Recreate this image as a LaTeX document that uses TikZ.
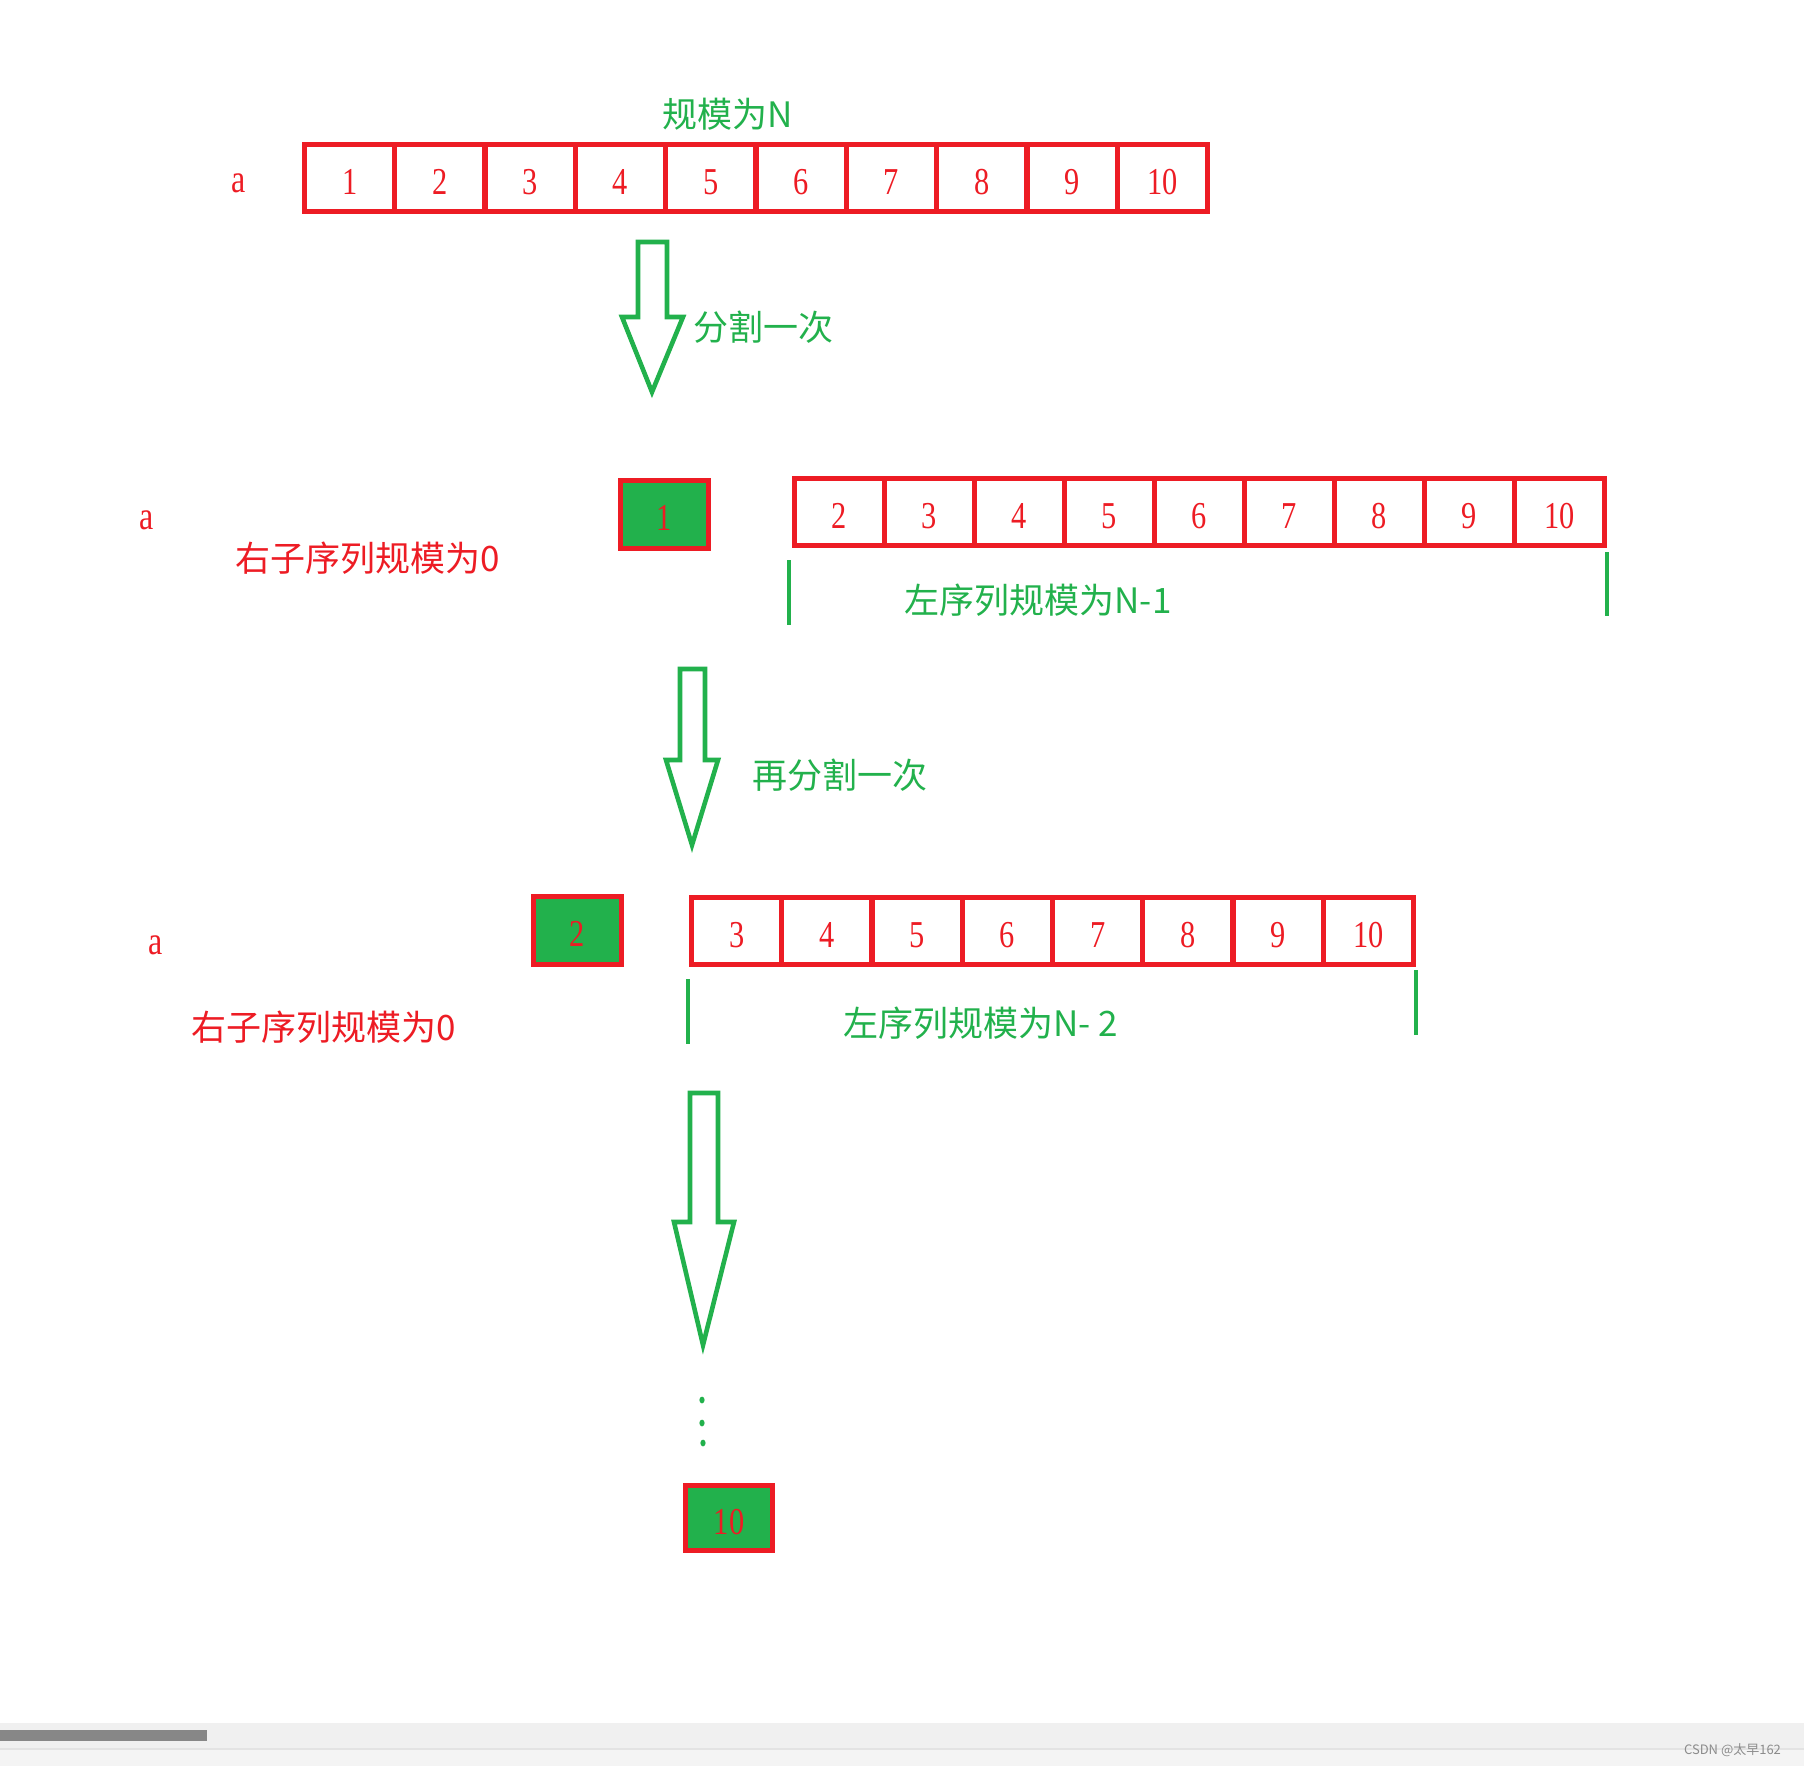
\documentclass[tikz,border=0pt]{standalone}
\usepackage{fontspec}
\newfontfamily\cjk{Noto Sans CJK SC}
\newfontfamily\digitfont{Liberation Serif}
\definecolor{pred}{HTML}{ED1C24}
\definecolor{pgreen}{HTML}{22B14C}
\newcommand{\thin}[1]{\scalebox{0.8}[1]{#1}}
\begin{document}
\begin{tikzpicture}[x=0.5pt,y=-0.5pt,
    cell/.style={draw=pred,line width=2.5pt,minimum width=45pt,minimum height=33.5pt,
      inner sep=0pt,outer sep=0pt,text=pred,text height=16.3pt,text depth=0pt,
      font=\digitfont\fontsize{19}{19}\selectfont},
    pivot/.style={cell,fill=pgreen,minimum width=44pt,minimum height=34pt},
    letter/.style={text=pred,font=\digitfont\fontsize{20}{20}\selectfont},
    zh/.style={font=\cjk\fontsize{17.5}{17.5}\selectfont},
    hollow/.style={draw=pgreen,line width=2.3pt},
    brace/.style={draw=pgreen,line width=2pt}]
  \useasboundingbox (0,0) rectangle (1804,1766);
  % bottom bar of the screenshot
  \fill[black!6] (0,1723) rectangle (1804,1766);
  \fill[black!4.5] (0,1749) rectangle (1804,1766);
  \draw[black!11,line width=0.6pt] (0,1749) -- (1804,1749);
  \fill[black!47] (0,1730) rectangle (207,1741);
  \node[anchor=east,text=black!45,font=\cjk\fontsize{6.5}{6.5}\selectfont] (mark) at (1788,1750) {CSDN @太早162};

  % first row
  \node[zh,text=pgreen] (sizeN) at (728,114) {规模为N};
  \node[letter] (a1) at (239,183) {\thin{a}};
  \foreach \i in {1,...,10}
    \node[cell] (r\i) at ({304.5+90.3*(\i-0.5)},178) {\thin{\i}};
  \draw[hollow] (638,242) -- (667,242) -- (667,317) -- (683,317) -- (652,392)
    -- (622,317) -- (638,317) -- cycle;
  \node[zh,text=pgreen,anchor=west] (cut1) at (686,327) {分割一次};

  % second row
  \node[letter] (a2) at (147,520) {\thin{a}};
  \node[pivot] (p1) at (664.5,514.5) {\thin{1}};
  \foreach \i in {2,...,10}
    \node[cell] (s\i) at ({794.5+90*(\i-1.5)},512) {\thin{\i}};
  \node[zh,text=pred] (right1) at (368,558) {右子序列规模为0};
  \coordinate (l1a) at (789,560); \coordinate (l1b) at (789,625);
  \coordinate (m1a) at (1607,552); \coordinate (m1b) at (1607,616);
  \draw[brace] (l1a) -- (l1b);
  \draw[brace] (m1a) -- (m1b);
  \node[zh,text=pgreen] (left1) at (1038,600) {左序列规模为N-1};
  \draw[hollow] (680,669) -- (705,669) -- (705,760) -- (718,760) -- (692,845)
    -- (666,760) -- (680,760) -- cycle;
  \node[zh,text=pgreen,anchor=west] (cut2) at (745,775) {再分割一次};

  % third row
  \node[letter] (a3) at (156,945) {\thin{a}};
  \node[pivot] (p2) at (577,930.5) {\thin{2}};
  \foreach \i in {3,...,10}
    \node[cell] (t\i) at ({691.5+90.25*(\i-2.5)},931) {\thin{\i}};
  \node[zh,text=pred] (right2) at (324,1027) {右子序列规模为0};
  \coordinate (l2a) at (688,979); \coordinate (l2b) at (688,1044);
  \coordinate (m2a) at (1416,970); \coordinate (m2b) at (1416,1035);
  \draw[brace] (l2a) -- (l2b);
  \draw[brace] (m2a) -- (m2b);
  \node[zh,text=pgreen] (left2) at (981,1023) {左序列规模为N- 2};
  \draw[hollow] (690,1093) -- (718,1093) -- (718,1222) -- (734,1222) -- (703,1345)
    -- (674,1222) -- (690,1222) -- cycle;

  % the rest
  \fill[pgreen] (702,1400) ellipse (1.3pt and 1.7pt);
  \fill[pgreen] (702,1423) ellipse (1.3pt and 1.7pt);
  \fill[pgreen] (703,1443) ellipse (1.3pt and 1.7pt);
  \node[pivot,minimum width=43.5pt,minimum height=32.5pt] (p10) at (729,1518) {\thin{10}};
\end{tikzpicture}
\end{document}
